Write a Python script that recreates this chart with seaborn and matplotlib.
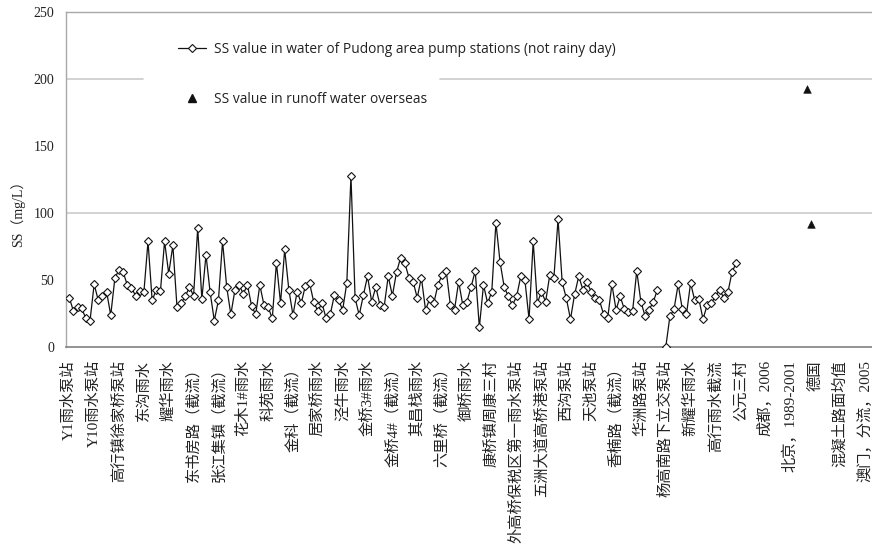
import numpy as np
import pandas as pd
import matplotlib
matplotlib.use("Agg")
import matplotlib.pyplot as plt
import seaborn as sns
from matplotlib.lines import Line2D

# ---------------- data ----------------
# SS (mg/L) of Pudong pump stations, one value per station (NaN = no value)
station_ss = [
    37, 27, 30, 29, 21.5, 20, 47, 35, 38, 41.5, 24, 51.5, 58, 56, 46.5, 44.5, 38.5, 42, 41, 79, 35, 43, 42, 79, 55, 76,
    30, 33, 38, 45, 38.5, 89, 36, 69, 41, 20, 35, 79, 45, 24.5, 43, 46.5, 40, 46.5, 31, 24.5, 46.5, 31.5, 30, 21.5, 63, 33, 73,
    43, 24, 41.5, 33, 46, 48, 34, 27, 33, 21.5, 24.5, 39, 35, 28, 48, 128, 36.5, 24, 39, 53, 34, 45, 31.5, 30, 53, 38.5, 56,
    67, 63, 52, 49, 37, 52, 28, 36, 33, 46.5, 54, 57, 31.5, 28, 49, 31.5, 34, 45, 57, 15, 46.5, 33, 41.5, 93, 63.5, 45, 38,
    31.5, 38, 53, 50, 21, 79, 33, 41.5, 34, 54, 52, 95.5, 48.5, 36.5, 21, 39.5, 53, 43, 48.5, 41.5, 37, 35, 24.5, 22, 47, 28,
    38, 28.5, 26, 27, 57, 34, 23.5, 28, 34, 43, np.nan, 0, 23, 28.5, 47, 28.5, 24.5, 48, 35, 36, 21, 31.5, 33, 38, 43, 37,
    41, 56, 63,
]
# overseas runoff values and their category slots
overseas_cat = [178, 179]
overseas_ss = [193, 92]

# category labels (every 6th category is labelled)
tick_labels = [
    "Y1雨水泵站", "Y10雨水泵站", "高行镇徐家桥泵站", "东沟雨水", "耀华雨水", "东书房路（截流）",
    "张江集镇（截流）", "花木1#雨水", "科苑雨水", "金科（截流）", "居家桥雨水", "泾牛雨水",
    "金桥3#雨水", "金桥4#（截流）", "其昌栈雨水", "六里桥（截流）", "御桥雨水", "康桥镇周康三村",
    "外高桥保税区第一雨水泵站", "五洲大道高桥港泵站", "西沟泵站", "天池泵站", "香楠路（截流）", "华洲路泵站",
    "杨高南路下立交泵站", "新耀华雨水", "高行雨水截流", "公元三村", "成都，2006", "北京，1989-2001",
    "德国", "混凝土路面均值", "澳门，分流，2005",
]
label_step = 6
yticks = [0, 50, 100, 150, 200, 250]

legend_labels = ["SS value in water of Pudong area pump stations (not rainy day)",
                 "SS value in runoff water overseas"]

# ---------------- table ----------------
cat = np.arange(len(station_ss))
ss = np.array(station_ss, dtype=float)
seg = np.cumsum(np.isnan(ss))  # break the line where a value is missing
df = pd.DataFrame({"cat": cat, "ss": ss, "seg": seg}).dropna()
df_o = pd.DataFrame({"cat": overseas_cat, "ss": overseas_ss})

# ---------------- style ----------------
sns.set_style("white")
plt.rcParams["font.family"] = ["Liberation Serif", "Noto Sans CJK SC", "DejaVu Sans"]

W, H = 872, 544
fig = plt.figure(figsize=(W / 100, H / 100), dpi=100)
ax = fig.add_axes([66 / W, (H - 347.3) / H, 806 / W, 335 / H])

sns.lineplot(data=df, x="cat", y="ss", units="seg", estimator=None, sort=False,
             color="#111111", linewidth=0.9, marker="D", markersize=4.1,
             markerfacecolor="white", markeredgecolor="#111111", markeredgewidth=0.8,
             legend=False, ax=ax, zorder=3)
sns.scatterplot(data=df_o, x="cat", y="ss", marker="^", color="#111111", s=30,
                edgecolor="#111111", linewidth=0.4, legend=False, ax=ax, zorder=3)

ax.set_xlim(-0.8, 193.8)
ax.set_ylim(0, 250)

# grid lines (200 line interrupted behind legend entry)
ax.axhline(100, color="#cfcfcf", lw=1.3, zorder=1)
ax.axhline(200, xmin=0, xmax=(143 - 66) / 806, color="#cfcfcf", lw=1.3, zorder=1)
ax.axhline(200, xmin=(440 - 66) / 806, xmax=1, color="#cfcfcf", lw=1.3, zorder=1)

# spines
for s in ["left", "top"]:
    ax.spines[s].set_color("#a8a8a8")
    ax.spines[s].set_linewidth(1.0)
ax.spines["bottom"].set_color("#8a8a8a")
ax.spines["bottom"].set_linewidth(1.3)
ax.spines["right"].set_visible(False)

# x ticks
xt = list(range(0, label_step * len(tick_labels), label_step))
ax.set_xticks(xt)
ax.set_xticklabels(tick_labels, rotation=90, fontsize=11, color="#222222",
                   family=["Liberation Serif", "Noto Sans CJK SC"])
ax.set_xticks(np.arange(1.5, 194, 3), minor=True)
ax.tick_params(axis="x", which="major", length=0, pad=9.2)
ax.tick_params(axis="x", which="minor", direction="in", length=3.6, width=0.8, color="#8a8a8a")
ax.set_xlabel("")

# y ticks
ax.set_yticks(yticks)
ax.set_yticklabels([str(v) for v in yticks], fontsize=10, color="#222222")
ax.tick_params(axis="y", length=0, pad=8.5)
ax.set_ylabel("SS（mg/L）", fontsize=10, color="#222222",
              family=["Liberation Serif", "Noto Sans CJK SC"])
ax.yaxis.set_label_coords(-0.051, 0.41)

# legend
h1 = Line2D([], [], color="#111111", lw=0.9, marker="D", markersize=4.1,
            markerfacecolor="white", markeredgecolor="#111111", markeredgewidth=0.8)
h2 = Line2D([], [], color="#111111", lw=0, marker="^", markersize=5.5)
leg = ax.legend([h1, h2], legend_labels, loc="upper left",
                bbox_to_anchor=((178 - 66) / 806, (347.3 - 42) / 335),
                frameon=False, borderaxespad=0, borderpad=0, numpoints=1,
                handlelength=2.0, handletextpad=0.65, labelspacing=2.55,
                prop={"family": "Open Sans", "size": 9.9})
for t in leg.get_texts():
    t.set_color("#222222")

fig.savefig("out.png", dpi=100)
